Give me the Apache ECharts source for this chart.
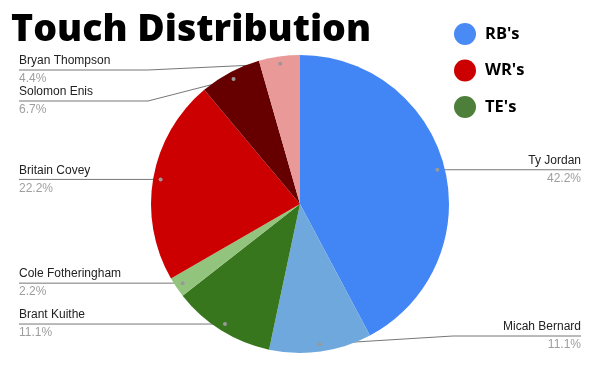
<!DOCTYPE html>
<html><head><meta charset="utf-8">
<script src="https://cdn.jsdelivr.net/npm/echarts@6/dist/echarts.min.js"></script>
<style>html,body{margin:0;padding:0;background:#fff}#c{width:600px;height:371px}</style>
</head><body><div id="c"></div>
<script>
const players = ['Ty Jordan','Micah Bernard','Brant Kuithe','Cole Fotheringham','Britain Covey','Solomon Enis','Bryan Thompson'];
const touches = [19, 5, 5, 1, 10, 3, 2];
const sliceColors = ['#4285f4','#6fa8dc','#38761d','#93c47d','#cc0000','#660000','#ea9999'];
const groups = ["RB's", "WR's", "TE's"];
const groupColors = ['#4a8af4', '#cc0000', '#4e7f3a'];

const CX = 300, CY = 204, R = 149, DOT = 0.95;
const LEFT_X = 19, RIGHT_X = 581, LEFT_ELBOW = 148, RIGHT_ELBOW = 453;
const total = touches.reduce((a, b) => a + b, 0);
const mids = []; let acc = 0;
touches.forEach(v => { mids.push(acc + v / 2); acc += v; });
function dotPos(i) {
  const a = mids[i] / total * 2 * Math.PI;
  return [CX + R * DOT * Math.sin(a), CY - R * DOT * Math.cos(a)];
}
const leftIdx = [], rightIdx = [];
mids.forEach((m, i) => { (m / total < 0.5 ? rightIdx : leftIdx).push(i); });
const lineY = {};
function resolve(list) {
  list.sort((a, b) => dotPos(a)[1] - dotPos(b)[1]);
  let prev = -Infinity;
  list.forEach(i => { const y = Math.max(dotPos(i)[1], 70, prev + 31); lineY[i] = y; prev = y; });
  let next = Infinity;
  for (let k = list.length - 1; k >= 0; k--) {
    const i = list[k]; const y = Math.min(lineY[i], 336, next - 31); lineY[i] = y; next = y;
  }
}
resolve(leftIdx); resolve(rightIdx);

const chart = echarts.init(document.getElementById('c'), null, {renderer: 'canvas'});
const option = {
  animation: false,
  backgroundColor: '#fff',
  title: {
    text: 'Touch Distribution', left: 6, top: 6,
    textStyle: {fontFamily: 'Open Sans', fontWeight: 800, fontSize: 37.5, color: '#000'}
  },
  legend: {
    orient: 'vertical', left: 449, top: 18, itemWidth: 22, itemHeight: 22, itemGap: 14.5,
    icon: 'circle', data: groups, selectedMode: false,
    textStyle: {fontFamily: 'Open Sans', fontWeight: 'bold', fontSize: 16.5, color: '#000', padding: [0, 0, 0, 4]}
  },
  polar: {center: [CX, CY], radius: R},
  angleAxis: {type: 'value', min: 0, max: total, startAngle: 90, clockwise: true, show: false},
  radiusAxis: {type: 'value', min: 0, max: 1, show: false},
  series: [
    {
      type: 'pie', center: [CX, CY], radius: R, startAngle: 90, clockwise: true,
      avoidLabelOverlap: false, silent: true,
      data: players.map((n, i) => ({name: n, value: touches[i], itemStyle: {color: sliceColors[i]}})),
      label: {
        show: true, position: 'outside',
        formatter: p => '{n|' + p.name + '}\n{p|' + (p.value / total * 100).toFixed(1) + '%}',
        rich: {
          n: {fontFamily: 'Liberation Sans', fontSize: 12, color: '#222', lineHeight: 18},
          p: {fontFamily: 'Liberation Sans', fontSize: 12, color: '#9e9e9e', lineHeight: 18}
        }
      },
      labelLine: {show: true, lineStyle: {color: '#777', width: 1}},
      labelLayout: function (params) {
        const i = params.dataIndex;
        const d = dotPos(i);
        const y = lineY[i];
        const isLeft = leftIdx.indexOf(i) >= 0;
        if (isLeft) {
          return {x: LEFT_X, y: y, align: 'left', verticalAlign: 'middle',
            labelLinePoints: [[d[0], d[1]], [Math.min(LEFT_ELBOW, d[0]), y], [LEFT_X, y]]};
        }
        return {x: RIGHT_X, y: y, align: 'right', verticalAlign: 'middle',
          labelLinePoints: [[d[0], d[1]], [Math.max(RIGHT_ELBOW, d[0]), y], [RIGHT_X, y]]};
      }
    },
    {
      type: 'scatter', coordinateSystem: 'polar', symbolSize: 4, silent: true, z: 10,
      itemStyle: {color: '#999', opacity: 1},
      data: mids.map(m => [DOT, m])
    }
  ].concat(groups.map((g, i) => ({
    type: 'scatter', coordinateSystem: 'polar', name: g, data: [], itemStyle: {color: groupColors[i], opacity: 1}
  })))
};
chart.setOption(option);
</script></body></html>
